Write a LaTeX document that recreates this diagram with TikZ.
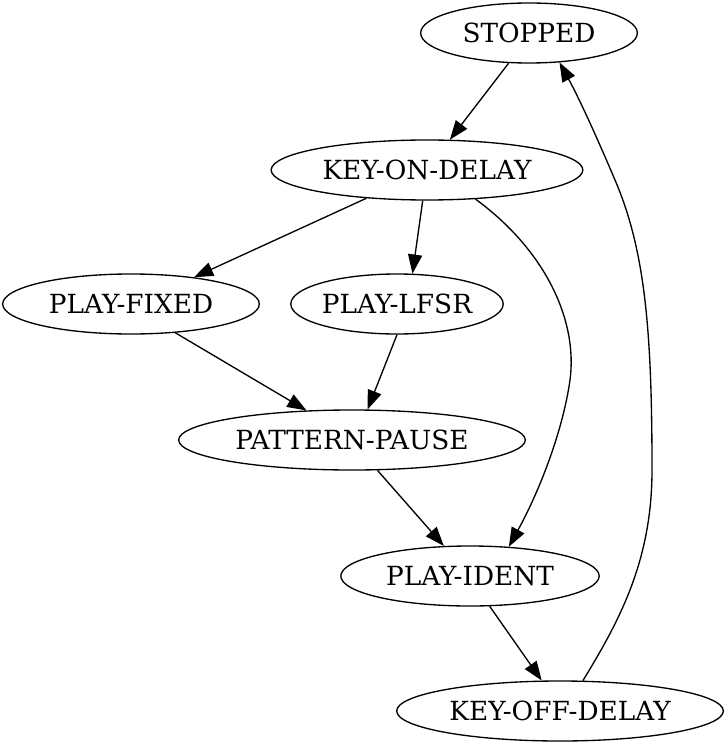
\documentclass[tikz,border=0pt]{standalone}
\usepackage{fontspec}
\setmainfont{DejaVu Serif}
\usetikzlibrary{shapes.geometric,arrows.meta}
\begin{document}
\begin{tikzpicture}[x=0.6pt,y=-0.6pt,
  st/.style={draw,ellipse,inner sep=0pt,minimum height=36pt,font=\fontsize{15.8pt}{18pt}\selectfont,line width=0.8pt},
  ed/.style={line width=0.8pt,-{Triangle[length=11.5pt,width=8.5pt]}}]
\useasboundingbox (0,0) rectangle (725,746);
\node[st,minimum width=130pt] (stop) at (529,33) {STOPPED};
\node[st,minimum width=187pt] (kon) at (427,170) {KEY-ON-DELAY};
\node[st,minimum width=154pt] (pf) at (131,304) {PLAY-FIXED};
\node[st,minimum width=125pt] (pl) at (397,304) {PLAY-LFSR};
\node[st,minimum width=208pt] (pp) at (352,440) {PATTERN-PAUSE};
\node[st,minimum width=155pt] (pi) at (470,576) {PLAY-IDENT};
\node[st,minimum width=196pt] (koff) at (560,711) {KEY-OFF-DELAY};
\draw[ed] (stop.-124) -- (kon.53.6);
\draw[ed] (kon.-155) -- (pf.23.6);
\draw[ed] (kon.-98) -- (pl.63);
\draw[ed] (kon.-31) .. controls (545,250) and (578,320) .. (570,380)
  .. controls (563,430) and (540,490) .. (pi.37);
\draw[ed] (pf.-33) -- (pp.147.5);
\draw[ed] (pl.-90) -- (pp.63);
\draw[ed] (pp.-50) -- (pi.131);
\draw[ed] (pi.-57) -- (koff.121);
\draw[ed] (koff.53) .. controls (620,620) and (652,560) .. (652,470)
  .. controls (652,330) and (645,250) .. (615,180)
  .. controls (598,140) and (580,100) .. (stop.-44);
\end{tikzpicture}
\end{document}
